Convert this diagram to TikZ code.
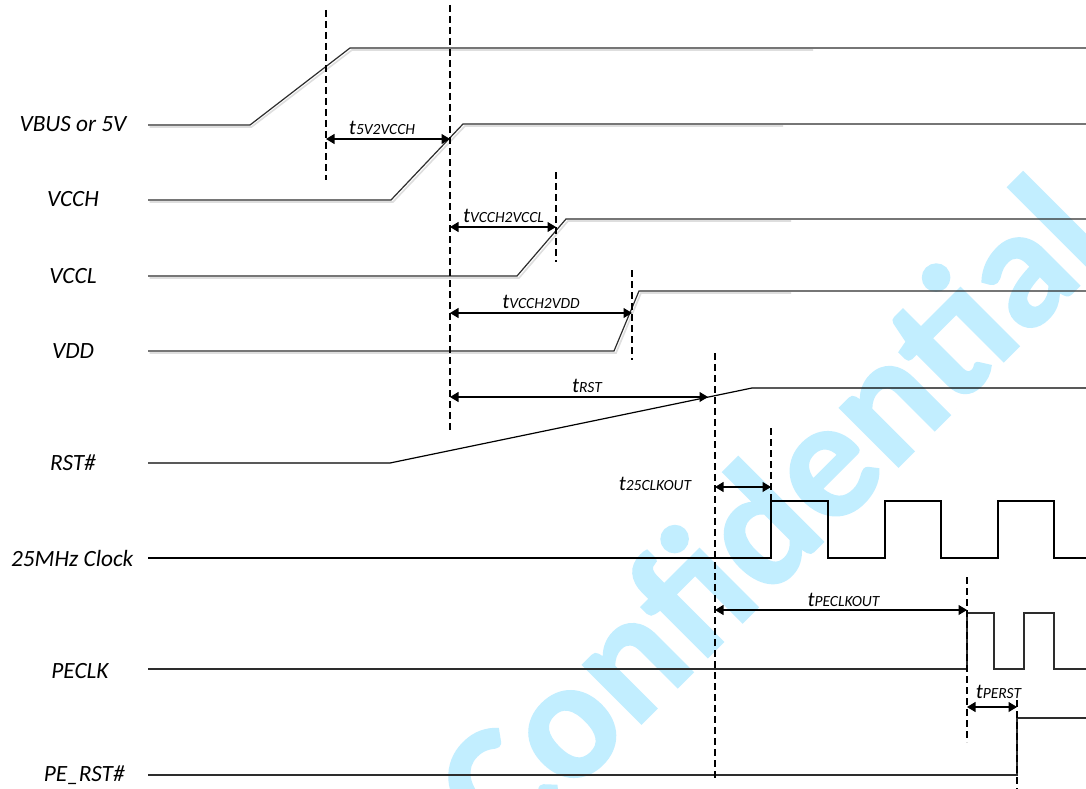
\documentclass[tikz,border=0pt]{standalone}
\usepackage{fontspec}
\setmainfont{Carlito}
\newfontfamily\wmfont{Carlito}[BoldFeatures={FakeBold=1.2}]
\usetikzlibrary{arrows.meta}
\definecolor{wmcol}{RGB}{194,238,255}
\definecolor{sigcol}{RGB}{45,45,45}
\definecolor{shadcol}{RGB}{222,222,222}
\newcommand{\tsub}[1]{{\fontsize{21}{21}\selectfont\itshape t}{\fontsize{15.5}{15.5}\selectfont\itshape #1}}
\begin{document}
\begin{tikzpicture}[x=1pt,y=-1pt,
  sigline/.style={line width=1.2pt,draw=sigcol,line join=miter},
  shadowline/.style={line width=1.6pt,draw=shadcol},
  dashline/.style={line width=1.2pt,draw=black,dash pattern=on 7pt off 4pt},
  dimarrow/.style={line width=1.1pt,draw=black,{Triangle[length=8.5pt,width=10pt]}-{Triangle[length=8.5pt,width=10pt]}},
  siglabel/.style={font=\fontsize{23.3}{23.3}\selectfont\itshape,anchor=base,inner sep=0pt},
  tlabel/.style={anchor=base,inner sep=0pt},
  wmtext/.style={text=wmcol, anchor=base west, rotate=45, inner sep=0pt,
    font=\fontsize{171}{171}\selectfont\wmfont\bfseries}]
\useasboundingbox (0,0) rectangle (1086,789);
\fill[white] (0,0) rectangle (1086,789);
% watermark
\begin{scope}
\clip (0,0) rectangle (1086,789);
\node[wmtext] (wmark) at (505,860) {Confidential};
\end{scope}
% signal labels
\node[siglabel] (lvbus) at (73,131.7) {VBUS or 5V};
\node[siglabel] (lvcch) at (73,206.7) {VCCH};
\node[siglabel] (lvccl) at (73,283.3) {VCCL};
\node[siglabel] (lvdd) at (73,358) {VDD};
\node[siglabel] (lrst) at (73,470.7) {RST\#};
\node[siglabel] (lclk) at (72.2,566.7) {25MHz Clock};
\node[siglabel] (lpeclk) at (80,678) {PECLK};
\node[siglabel] (lperst) at (84.3,781.7) {PE\_RST\#};
% shadows
\draw[shadowline] (149.5,127) -- (251.5,127) -- (352,50) -- (813,50);
\draw[shadowline] (149.5,202) -- (393,202) -- (465,126) -- (783,126);
\draw[shadowline] (149.5,278) -- (519,278) -- (568,221) -- (791,221);
\draw[shadowline] (149.5,353) -- (616,353) -- (641,293) -- (791,293);
% signals
\draw[sigline] (148,125) -- (250,125) -- (350,48) -- (1086,48);
\draw[sigline] (148,200) -- (391,200) -- (463,124) -- (1086,124);
\draw[sigline] (148,276) -- (517,276) -- (566,219) -- (1086,219);
\draw[sigline] (148,351) -- (614,351) -- (639,291) -- (1086,291);
\draw[sigline,draw=black] (148,463) -- (390,463) -- (752,388) -- (1086,388);
\draw[sigline,draw=black] (148,558) -- (771,558) -- (771,501) -- (828,501) -- (828,558) -- (885,558) -- (885,501) -- (941,501) -- (941,558) -- (998,558) -- (998,501) -- (1054,501) -- (1054,558) -- (1086,558);
\draw[sigline] (148,669) -- (967,669) -- (967,613) -- (994,613) -- (994,669) -- (1024,669) -- (1024,613) -- (1054,613) -- (1054,669) -- (1086,669);
\draw[sigline] (148,775) -- (1017,775) -- (1017,718) -- (1086,718);
% dashed markers
\coordinate (d1t) at (326,10);   \coordinate (d1b) at (326,180);
\coordinate (d2t) at (450,5);    \coordinate (d2b) at (450,432);
\coordinate (d3t) at (556,172);  \coordinate (d3b) at (556,262);
\coordinate (d4t) at (632,270);  \coordinate (d4b) at (632,360);
\coordinate (d5t) at (715,353);  \coordinate (d5b) at (715,779);
\coordinate (d6t) at (771,428);  \coordinate (d6b) at (771,501);
\coordinate (d7t) at (967,577);  \coordinate (d7b) at (967,742);
\coordinate (d8t) at (1017,700); \coordinate (d8b) at (1017,789);
\foreach \i in {1,...,8} {\draw[dashline] (d\i t) -- (d\i b);}
% dimension arrows
\coordinate (a1l) at (326,139); \coordinate (a1r) at (450,139);
\coordinate (a2l) at (450,227); \coordinate (a2r) at (556,227);
\coordinate (a3l) at (450,313); \coordinate (a3r) at (632,313);
\coordinate (a4l) at (450,397); \coordinate (a4r) at (708,397);
\coordinate (a5l) at (715,487); \coordinate (a5r) at (771,487);
\coordinate (a6l) at (715,610); \coordinate (a6r) at (967,610);
\coordinate (a7l) at (967,707); \coordinate (a7r) at (1017,707);
\foreach \i in {1,...,7} {\draw[dimarrow] (a\i l) -- (a\i r);}
% dimension labels
\node[tlabel] (t1) at (382,135) {\tsub{5V2VCCH}};
\node[tlabel] (t2) at (503.5,222) {\tsub{VCCH2VCCL}};
\node[tlabel] (t3) at (541,308) {\tsub{VCCH2VDD}};
\node[tlabel] (t4) at (587,392) {\tsub{RST}};
\node[tlabel] (t5) at (655,490) {\tsub{25CLKOUT}};
\node[tlabel] (t6) at (843.5,606) {\tsub{PECLKOUT}};
\node[tlabel] (t7) at (998.5,698) {\tsub{PERST}};
\end{tikzpicture}
\end{document}
